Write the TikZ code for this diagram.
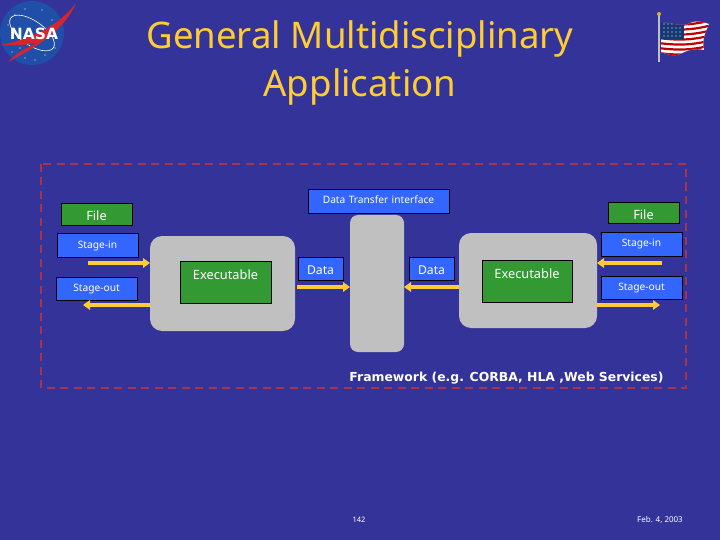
\documentclass[tikz,border=0pt]{standalone}
\usepackage{fontspec}
\setmainfont{Noto Sans}
\newfontfamily\heavyfont{DejaVu Sans}
\usetikzlibrary{arrows.meta}
\definecolor{bgc}{HTML}{333399}
\definecolor{bluec}{HTML}{3366FF}
\definecolor{greenc}{HTML}{339933}
\definecolor{greyc}{HTML}{C0C0C0}
\definecolor{goldc}{HTML}{FFCC33}
\definecolor{dashc}{HTML}{A8344C}
\definecolor{nasab}{HTML}{1F4FA8}
\definecolor{nasar}{HTML}{D8242C}
\tikzset{
  x=1pt,y=-1pt,
  bx/.style n args={3}{anchor=north west,inner sep=0pt,outer sep=0pt,align=center,
    text width=#1 pt,text height=#3 pt,text depth=#2 pt-#3 pt,draw=black,line width=0.8pt,text=white},
  bluebox/.style={fill=bluec,font=\fontsize{10.2}{12}\selectfont},
  greenbox/.style={fill=greenc,font=\fontsize{12.8}{14}\selectfont},
  databox/.style={fill=bluec,font=\fontsize{12.2}{14}\selectfont},
  greyblock/.style={anchor=north west,fill=greyc,rounded corners=12pt,inner sep=0pt,outer sep=0pt},
  flow/.style={draw=goldc,line width=3.2pt,-{Triangle[length=7pt,width=9.5pt]}},
  caption/.style={text=white,inner sep=0pt},
  foot/.style={text=white,inner sep=0pt},
  titletext/.style={text=goldc,inner sep=0pt,align=center,font=\fontsize{36.6}{48}\selectfont},
}
\begin{document}
\begin{tikzpicture}
\useasboundingbox (0,0) rectangle (720,540);
\fill[bgc] (0,0) rectangle (720,540);

% title
\node[titletext,anchor=base] (title) at (360,97) {General Multidisciplinary\\Application};

% NASA logo
\fill[nasab] (32,33) circle[radius=32];
\draw[white,line width=0.6pt,rotate around={-35:(32,33)}] (32,33) ellipse[x radius=26,y radius=12];
\fill[nasar] (0,45) .. controls (30,40) and (60,25) .. (76,3) .. controls (65,30) and (35,48) .. (8,62) .. controls (20,50) and (30,46) .. (38,43) .. controls (25,45) and (10,46) .. (0,45) -- cycle;
\foreach \px/\py in {15/15,25/9,42/10,52/20,12/52,25/58,45/55,55/48,20/48,35/60,8/25}
  \fill[white] (\px,\py) circle[radius=0.6];
\node[inner sep=0pt,text=white,font=\heavyfont\bfseries\fontsize{15.5}{18}\selectfont] (nasa) at (34,34) {NASA};

% flag
\fill[greyc] (658,14) rectangle (660,62);
\fill[goldc!60!brown] (659,14) circle[radius=2];
\fill[white] (661,22) .. controls (675,24) and (685,27) .. (690,23) .. controls (697,20) and (703,22) .. (709,24) .. controls (705,34) and (702,38) .. (704,50) .. controls (695,48) and (688,50) .. (680,54) .. controls (673,57) and (667,54) .. (661,52) -- cycle;
\begin{scope}
\clip (661,22) .. controls (675,24) and (685,27) .. (690,23) .. controls (697,20) and (703,22) .. (709,24) .. controls (705,34) and (702,38) .. (704,50) .. controls (695,48) and (688,50) .. (680,54) .. controls (673,57) and (667,54) .. (661,52) -- cycle;
\foreach \sy in {20,25,30,35,40,45,50}
  \draw[red!75!black,line width=2.2pt] (658,\sy+3) .. controls (675,\sy+5) and (690,\sy+6) .. (712,\sy);
\fill[nasab!70!black] (661,20) rectangle (684,39);
\foreach \px in {664,668,672,676,680}
  \foreach \py in {24,28,32,36}
    \fill[white] (\px,\py) circle[radius=0.6];
\end{scope}

% dashed frame
\draw[dashc,line width=2pt,dash pattern=on 8pt off 5.5pt] (41,164) rectangle (686,388);

% grey blocks
\node[greyblock,minimum width=145pt,minimum height=95pt] (gl) at (150,236) {};
\node[greyblock,minimum width=54pt,minimum height=137pt,rounded corners=8pt] (gm) at (350,215) {};
\node[greyblock,minimum width=138pt,minimum height=95pt] (gr) at (459,233) {};

% boxes
\node[bx={71}{22}{18},greenbox] (fileL) at (61,203) {File};
\node[bx={81}{24}{15},bluebox] (inL) at (57,233) {Stage-in};
\node[bx={81}{23}{14},bluebox] (outL) at (56,277) {Stage-out};
\node[bx={91}{42}{18},greenbox] (exL) at (180,261) {Executable};
\node[bx={45}{23}{17},databox] (dataL) at (298,257) {Data};
\node[bx={141}{24}{15},bluebox] (dti) at (308,189) {Data Transfer interface};
\node[bx={45}{23}{17},databox] (dataR) at (409,257) {Data};
\node[bx={90}{42}{18},greenbox] (exR) at (482,260) {Executable};
\node[bx={71}{21}{17},greenbox] (fileR) at (608,202) {File};
\node[bx={81}{24}{15},bluebox] (inR) at (601,232) {Stage-in};
\node[bx={81}{23}{14},bluebox] (outR) at (601,276) {Stage-out};

% arrow ends
\coordinate (a1) at (88,263);
\coordinate (a2) at (83,305);
\coordinate (a3) at (297,287);
\coordinate (a4) at (662,263);
\coordinate (a5) at (660,305);

\draw[flow] (a1) -- (a1 -| gl.west);
\draw[flow] (gl.west |- a2) -- (a2);
\draw[flow] (a3) -- (a3 -| gm.west);
\draw[flow] (gr.west |- a3) -- (a3 -| gm.east);
\draw[flow] (a4) -- (a4 -| gr.east);
\draw[flow] (gr.east |- a5) -- (a5);

% texts
\node[caption,anchor=base,font=\heavyfont\bfseries\fontsize{12.4}{14}\selectfont] (fw) at (506.5,381) {Framework (e.g. CORBA, HLA ,Web Services)};
\node[foot,anchor=base,font=\fontsize{7.5}{8}\selectfont] (pg) at (359,522) {142};
\node[foot,anchor=base,font=\fontsize{8}{9}\selectfont] (dt) at (660,522) {Feb. 4, 2003};
\end{tikzpicture}
\end{document}
